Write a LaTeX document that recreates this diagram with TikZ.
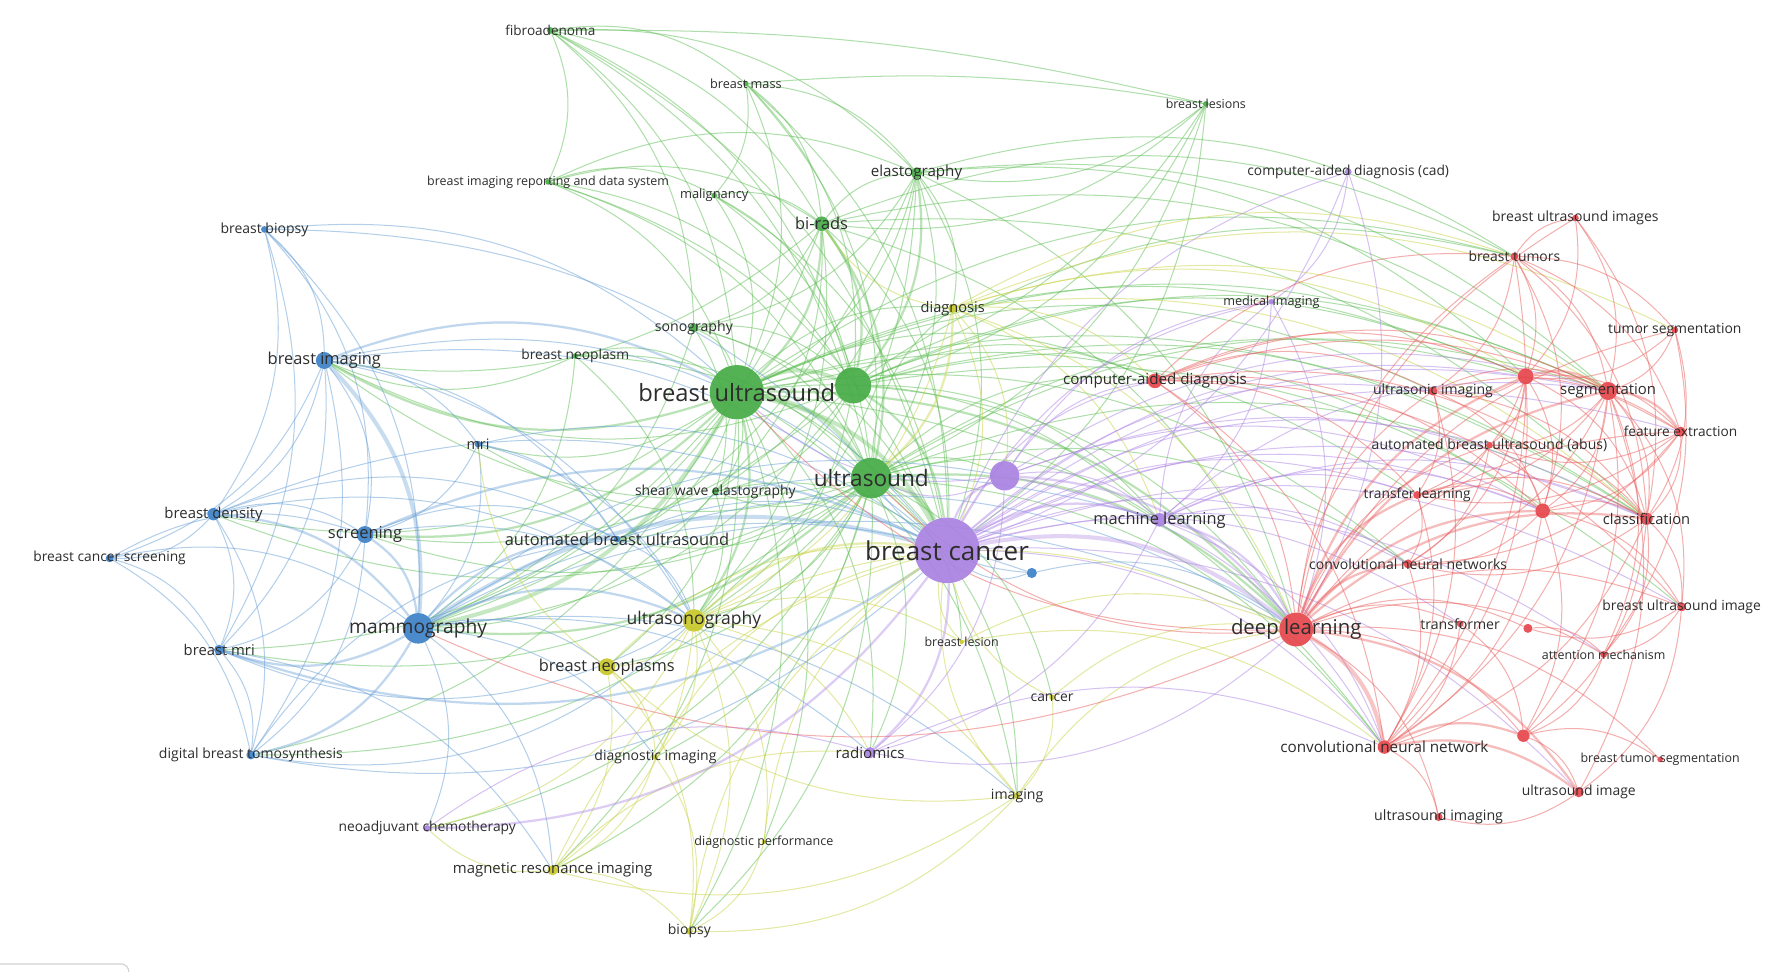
\documentclass[tikz,border=0pt]{standalone}
\usepackage{fontspec}
\setmainfont{Open Sans}
\pgfdeclarelayer{bg}
\pgfsetlayers{bg,main}
\definecolor{gN}{RGB}{70,172,70}
\definecolor{bN}{RGB}{60,130,200}
\definecolor{yN}{RGB}{200,200,40}
\definecolor{pN}{RGB}{170,130,225}
\definecolor{rN}{RGB}{230,70,75}
\definecolor{gE}{RGB}{95,190,85}
\definecolor{bE}{RGB}{105,160,215}
\definecolor{yE}{RGB}{200,212,70}
\definecolor{pE}{RGB}{175,135,230}
\definecolor{rE}{RGB}{235,95,95}
\definecolor{txt}{RGB}{45,45,45}
\tikzset{
  dot/.style={circle, inner sep=0pt, draw=none, fill opacity=0.92},
  lab/.style={inner sep=0pt, text=txt},
  lnA/.style={line width=0.9pt, opacity=0.5},
  lnB/.style={line width=2pt, opacity=0.42},
  lnC/.style={line width=3.6pt, opacity=0.36},
}
\newcommand\kw[7]{%
  \node[dot, minimum size=#4pt, fill=#5] (#1) at (#2,#3) {};
  \node[lab, font=\fontsize{#7}{#7}\selectfont] (#1t) at (#2,#3) {#6};}
\newcommand\kwdot[5]{%
  \node[dot, minimum size=#4pt, fill=#5] (#1) at (#2,#3) {};}
\newcommand\links[3]{%
  \foreach \a/\b in {#3} \draw[#1,#2] (\a) to[bend left=24] (\b);}
\newcommand\linksS[3]{%
  \foreach \a/\b in {#3} \draw[#1,#2] (\a) to[bend left=7] (\b);}
\newcommand\linksR[3]{%
  \foreach \a/\b in {#3} \draw[#1,#2] (\a) to[bend right=26] (\b);}
\begin{document}
\begin{tikzpicture}[x=1pt,y=-1pt]
\useasboundingbox (0,0) rectangle (1568,862);
\begin{pgfonlayer}{bg}
\fill[white] (0,0) rectangle (1568,862);
\end{pgfonlayer}
% ---------- green ----------
\kw{fib}{487}{27}{6}{gN}{fibroadenoma}{12}
\kw{bmass}{660}{74}{5}{gN}{breast mass}{11.2}
\kw{bles}{1067}{92}{5}{gN}{breast lesions}{11}
\kw{birs}{485}{161}{5}{gN}{breast imaging reporting and data system}{11}
\kw{mal}{632}{173}{5}{gN}{malignancy}{11.4}
\kw{ela}{811}{153}{10}{gN}{elastography}{13.4}
\kw{bir}{727}{198}{13}{gN}{bi-rads}{14.5}
\kw{sono}{614}{290}{8}{gN}{sonography}{12.5}
\kw{bneo}{509}{315}{5}{gN}{breast neoplasm}{12.2}
\kw{bus}{652}{347}{48}{gN}{breast ultrasound}{21}
\kwdot{g2}{755}{341}{32}{gN}
\kw{us}{771}{423}{36}{gN}{ultrasound}{20}
\kw{swe}{633}{435}{6}{gN}{shear wave elastography}{12.3}
% ---------- blue ----------
\kw{bbio}{234}{203}{6}{bN}{breast biopsy}{12.4}
\kw{bimg}{287}{319}{15}{bN}{breast imaging}{14.5}
\kw{mri}{423}{393}{6}{bN}{mri}{12.8}
\kw{bden}{189}{455}{11}{bN}{breast density}{13.2}
\kw{scr}{323}{473}{15}{bN}{screening}{14.6}
\kw{bcs}{97}{494}{7}{bN}{breast cancer screening}{12.2}
\kw{mam}{370}{556}{27}{bN}{mammography}{17}
\kw{bmri}{194}{575}{9}{bN}{breast mri}{13.1}
\kw{dbt}{222}{668}{8}{bN}{digital breast tomosynthesis}{12.4}
\kw{abu}{546}{477}{6}{bN}{automated breast ultrasound}{14.5}
\kwdot{b2}{913}{507}{9}{bN}
% ---------- yellow ----------
\kw{dia}{843}{273}{8}{yN}{diagnosis}{12.9}
\kw{usg}{614}{549}{20}{yN}{ultrasonography}{15.5}
\kw{bneos}{537}{590}{15}{yN}{breast neoplasms}{14.5}
\kw{blsn}{851}{568}{4}{yN}{breast lesion}{11}
\kw{can}{931}{617}{5}{yN}{cancer}{12.3}
\kw{dimg}{580}{670}{5}{yN}{diagnostic imaging}{12.4}
\kw{img}{900}{704}{6}{yN}{imaging}{12.5}
\kw{dperf}{676}{745}{4}{yN}{diagnostic performance}{11.1}
\kw{mrimg}{489}{770}{9}{yN}{magnetic resonance imaging}{13.2}
\kw{bio}{610}{824}{6}{yN}{biopsy}{12.4}
% ---------- purple ----------
\kw{bc}{838}{487}{58}{pN}{breast cancer}{23}
\kwdot{p2}{889}{421}{26}{pN}
\kw{ml}{1026}{460}{12}{pN}{machine learning}{14.5}
\kw{cad}{1193}{152}{6}{pN}{computer-aided diagnosis (cad)}{12.2}
\kw{medi}{1125}{267}{5}{pN}{medical imaging}{11.2}
\kw{rad}{770}{666}{10}{pN}{radiomics}{13.4}
\kw{neo}{378}{733}{6}{pN}{neoadjuvant chemotherapy}{12.2}
% ---------- red ----------
\kw{cadr}{1022}{337}{13}{rN}{computer-aided diagnosis}{13.4}
\kw{busis}{1394}{193}{6}{rN}{breast ultrasound images}{12.4}
\kw{btum}{1340}{227}{7}{rN}{breast tumors}{12.3}
\kw{tseg}{1482}{292}{6}{rN}{tumor segmentation}{12.3}
\kwdot{r1}{1350}{333}{14}{rN}
\kw{usi}{1268}{346}{8}{rN}{ultrasonic imaging}{12.4}
\kw{seg}{1423}{346}{16}{rN}{segmentation}{13.2}
\kw{fe}{1487}{382}{9}{rN}{feature extraction}{12.1}
\kw{abus}{1318}{394}{6}{rN}{automated breast ultrasound (abus)}{12.4}
\kw{tl}{1254}{438}{7}{rN}{transfer learning}{12.2}
\kwdot{r2}{1365}{452}{13}{rN}
\kw{cls}{1457}{459}{11}{rN}{classification}{13}
\kw{cnns}{1246}{499}{8}{rN}{convolutional neural networks}{12.4}
\kw{busi}{1488}{537}{8}{rN}{breast ultrasound image}{12.3}
\kw{dl}{1147}{557}{30}{rN}{deep learning}{18}
\kw{tr}{1292}{552}{6}{rN}{transformer}{12.5}
\kwdot{r3}{1352}{556}{8}{rN}
\kw{att}{1419}{579}{6}{rN}{attention mechanism}{11}
\kw{cnn}{1225}{661}{12}{rN}{convolutional neural network}{13.5}
\kwdot{r4}{1348}{651}{11}{rN}
\kw{btseg}{1469}{672}{5}{rN}{breast tumor segmentation}{11}
\kw{usimg}{1397}{701}{9}{rN}{ultrasound image}{12.3}
\kw{usimgg}{1273}{723}{7}{rN}{ultrasound imaging}{12.6}
% small grey mark bottom left
\draw[gray!35, line width=1pt] (0,853) -- (108,853) to[bend left=40] (114,860);
% ---------- links ----------
\begin{pgfonlayer}{bg}
% green
\linksS{lnA}{gE}{fib/bles,bmass/bles}
\links{lnA}{gE}{fib/bmass,fib/bir,fib/ela,fib/bus,fib/us,fib/g2,fib/sono,fib/birs,fib/bc,
 bmass/mal,bmass/bir,bmass/bus,bmass/us,bmass/g2,bmass/ela,bmass/bc,
 bles/ela,bles/bus,bles/us,bles/g2,bles/bir,bles/bc,
 birs/bir,birs/bus,birs/us,birs/mal,birs/g2,birs/bc,birs/ela,
 mal/bir,mal/bus,mal/us,mal/bc,mal/g2,
 ela/bus,ela/us,ela/swe,ela/bc,ela/dia,ela/dl,ela/mam,ela/usg,ela/sono,ela/btum,ela/seg,ela/r1,
 bir/bc,bir/mam,bir/sono,bir/dl,bir/swe,bir/usg,bir/bimg,bir/ela,bir/btum,bir/seg,bir/cls,
 sono/bus,sono/us,sono/g2,sono/bc,sono/mam,sono/swe,
 bneo/bus,bneo/us,bneo/bc,bneo/mam,bneo/bimg,bneo/usg,
 bus/bden,bus/cnn,bus/seg,bus/cls,bus/cadr,bus/ml,bus/bneos,bus/mri,bus/abu,bus/swe,bus/dbt,bus/bmri,bus/rad,bus/cnns,bus/tl,bus/r1,bus/dia,bus/img,bus/bio,bus/dperf,bus/mrimg,bus/btum,bus/usi,
 g2/dl,g2/mam,g2/bimg,g2/ml,g2/cadr,g2/seg,g2/cls,g2/usg,g2/swe,g2/r1,g2/r2,g2/busi,g2/scr,g2/btum,
 us/usg,us/bneos,us/bimg,us/scr,us/bden,us/cnn,us/ml,us/rad,us/p2,us/dia,us/swe,us/abu,us/mri,us/cadr,us/seg,us/cls,us/img,us/can,us/blsn,us/dimg,us/mrimg,us/bio,us/dbt,us/bmri,us/neo,us/r1,us/cnns,
 swe/bc,swe/mam,swe/usg,swe/abu}
\links{lnB}{gE}{bir/bus,bir/us,bir/g2,bus/bimg,bus/scr,bus/dl,bus/usg,us/mam,us/dl,g2/bc,ela/g2}
\links{lnC}{gE}{bus/us,bus/g2,bus/bc,bus/mam,us/bc}
% blue
\links{lnA}{bE}{bbio/bimg,bbio/mam,bbio/bmri,bbio/scr,bbio/bc,bbio/bus,bbio/bden,
 bimg/scr,bimg/bden,bimg/mri,bimg/bc,bimg/abu,bimg/bmri,bimg/dbt,bimg/usg,bimg/bcs,bimg/us,
 mri/mam,mri/bc,mri/scr,mri/usg,mri/abu,
 bden/bcs,bden/scr,bden/bmri,bden/dbt,bden/abu,bden/bc,bden/usg,
 bcs/mam,bcs/scr,bcs/bmri,bcs/dbt,
 scr/abu,scr/bmri,scr/dbt,scr/usg,
 mam/bneos,mam/dl,mam/mrimg,mam/neo,mam/dimg,mam/rad,mam/ml,mam/p2,mam/b2,mam/img,
 bmri/dbt,bmri/mrimg,
 dbt/abu,
 abu/bc,abu/usg,abu/dl,
 b2/bc,b2/dl,b2/us}
\linksR{lnA}{bE}{dbt/bc,dbt/usg,bmri/usg}
\links{lnB}{bE}{bden/mam,scr/mam,scr/bc,mam/bmri,mam/dbt,mam/usg,mam/abu,bimg/bus}
\linksR{lnB}{bE}{bmri/bc}
\links{lnC}{bE}{bimg/mam,mam/bc}
% yellow
\links{lnA}{yE}{dia/bc,dia/dl,dia/usg,dia/bir,dia/ml,dia/cadr,dia/seg,dia/cls,dia/p2,dia/btum,dia/r1,dia/tseg,
 usg/bneos,usg/dimg,usg/mrimg,usg/bio,usg/dperf,usg/blsn,usg/img,usg/rad,usg/dl,usg/neo,
 bneos/bc,bneos/mrimg,bneos/dimg,bneos/bio,bneos/mri,
 blsn/bc,blsn/dl,blsn/cnn,
 can/bc,can/dl,can/img,
 dimg/bc,dimg/mrimg,dimg/bio,
 img/bc,img/mrimg,img/dl,img/bio,img/bneos,
 dperf/bc,dperf/bio,
 mrimg/bc,mrimg/bio,mrimg/neo,mrimg/rad,
 bio/bc}
\links{lnB}{yE}{usg/bc,dia/us}
% purple
\links{lnA}{pE}{bc/cad,bc/medi,bc/cadr,bc/seg,bc/cls,bc/cnn,bc/cnns,bc/tl,bc/r1,bc/r2,bc/busi,bc/usimg,bc/att,bc/tr,bc/usi,bc/abus,bc/fe,
 p2/ml,p2/rad,p2/medi,p2/cadr,p2/cnn,p2/seg,p2/cls,p2/r2,p2/us,p2/bus,
 ml/rad,ml/cls,ml/cnn,ml/seg,ml/medi,ml/tl,ml/r2,ml/cnns,
 rad/cnn,
 cad/dl,cad/medi,cad/bc,
 medi/dl,medi/ml}
\linksR{lnA}{pE}{rad/dl,rad/neo}
\links{lnB}{pE}{bc/ml,bc/p2,bc/rad,p2/dl,ml/dl}
\linksR{lnB}{pE}{neo/bc}
\links{lnC}{pE}{bc/dl}
% red
\links{lnA}{rE}{cadr/dl,cadr/seg,cadr/cls,cadr/r1,cadr/btum,cadr/cnn,cadr/usi,cadr/tl,cadr/fe,cadr/r2,cadr/busi,
 dl/btum,dl/usi,dl/abus,dl/fe,dl/tseg,dl/busis,dl/busi,dl/tr,dl/r3,dl/att,dl/r4,dl/usimgg,dl/btseg,
 btum/seg,btum/r1,btum/usi,btum/cls,btum/busis,btum/tseg,btum/fe,btum/cnn,btum/r2,
 busis/seg,busis/cls,busis/r1,
 tseg/seg,tseg/r1,tseg/cls,tseg/att,
 r1/usi,r1/cls,r1/fe,r1/cnns,r1/tl,r1/r2,r1/cnn,r1/abus,
 usi/seg,usi/cls,usi/fe,usi/cnn,usi/r2,usi/tl,
 seg/cls,seg/r2,seg/cnns,seg/tl,seg/cnn,seg/busi,seg/usimg,seg/att,seg/abus,seg/r4,
 fe/cls,fe/r2,fe/cnns,fe/abus,fe/tl,
 abus/cls,abus/r2,abus/cnns,abus/tl,
 tl/cnns,tl/cls,tl/r2,tl/cnn,
 r2/cls,r2/cnns,r2/cnn,r2/busi,r2/r4,
 cls/busi,cls/cnns,cls/att,cls/cnn,cls/r4,
 cnns/cnn,busi/att,busi/r3,busi/usimg,
 tr/r4,tr/cnn,r3/att,att/r4,
 cnn/usimgg,r4/usimg,r4/btseg,usimg/usimgg,
 dl/mam,dl/bus,dl/us}
\links{lnB}{rE}{dl/seg,dl/cls,dl/cnns,dl/tl,dl/r1,dl/r2,dl/usimg,r1/seg,seg/fe,cnn/r4,cnn/usimg}
\links{lnC}{rE}{dl/cnn}
\end{pgfonlayer}
\end{tikzpicture}
\end{document}
